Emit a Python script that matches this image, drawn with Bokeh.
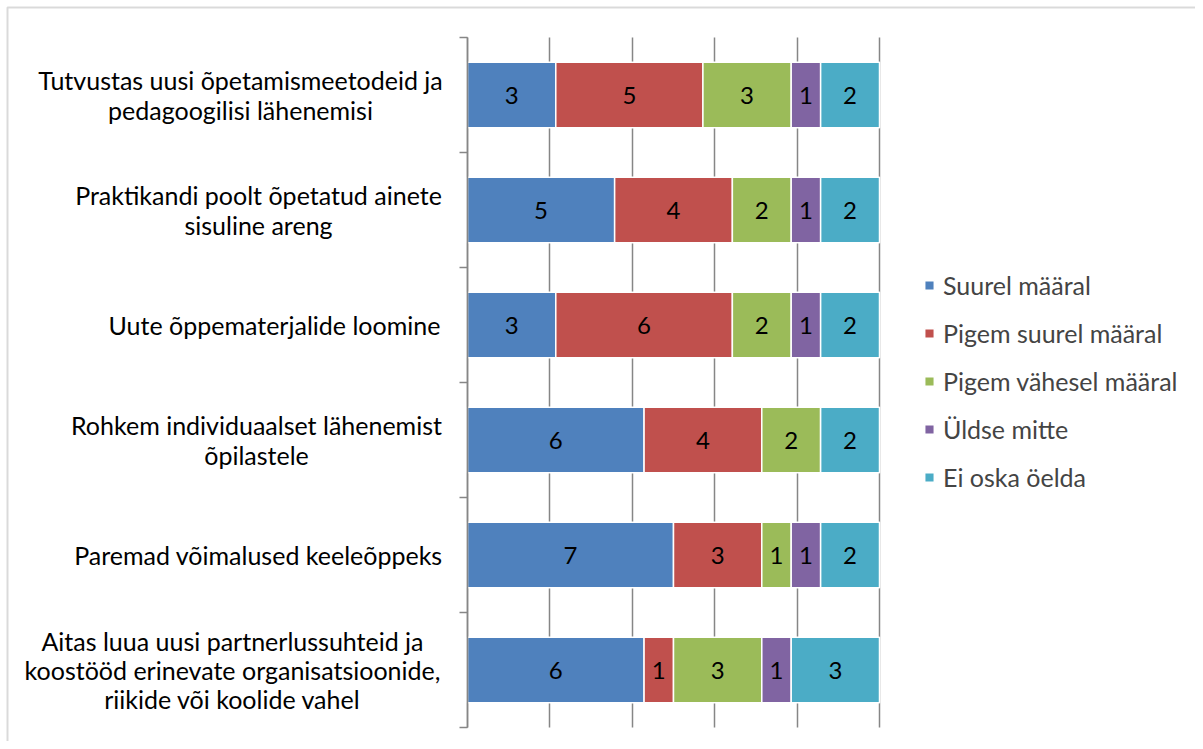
from bokeh.plotting import figure
from bokeh.models import (ColumnDataSource, Range1d, LinearAxis, FixedTicker,
                          LabelSet, BoxAnnotation, Grid)
from bokeh.core.properties import value
from bokeh.embed import file_html
from bokeh.resources import INLINE

# ---------------- data ----------------
categories = [
    "Tutvustas uusi õpetamismeetodeid ja\npedagoogilisi lähenemisi",
    "Praktikandi poolt õpetatud ainete\nsisuline areng",
    "Uute õppematerjalide loomine",
    "Rohkem individuaalset lähenemist\nõpilastele",
    "Paremad võimalused keeleõppeks",
    "Aitas luua uusi partnerlussuhteid ja\nkoostööd erinevate organisatsioonide,\nriikide või koolide vahel",
]
series_names = ["Suurel määral", "Pigem suurel määral", "Pigem vähesel määral",
                "Üldse mitte", "Ei oska öelda"]
suurel = [3, 5, 3, 6, 7, 6]
pigem_suurel = [5, 4, 6, 4, 3, 1]
pigem_vahesel = [3, 2, 2, 2, 1, 3]
uldse_mitte = [1, 1, 1, 0, 1, 1]
ei_oska = [2, 2, 2, 2, 2, 3]
grid_ticks = [0.0, 0.2, 0.4, 0.6, 0.8, 1.0]

# ---------------- style / layout ----------------
colors = ["#4F81BD", "#C0504D", "#9BBB59", "#8064A2", "#4BACC6"]
GRAY = "#868686"
FONT = "Lato"
W, H = 1195, 741
AX_X, PLOT_TOP, PLOT_BOT = 467.0, 37.0, 727.0   # canvas px of bar area
PX_PER_X = 412.0                                  # px for 100 %
label_center_px = [240, 258, 274, 256, 258, 232]  # canvas x of label centres
LINE_PX = 29.3                                    # label line spacing

series = [suurel, pigem_suurel, pigem_vahesel, uldse_mitte, ei_oska]
keys = ["s0", "s1", "s2", "s3", "s4"]
n = len(categories)
PX_PER_Y = (PLOT_BOT - PLOT_TOP) / n
ys = [n - 0.5 - i for i in range(n)]
totals = [sum(s[i] for s in series) for i in range(n)]

data = {"y": ys}
for k, s in zip(keys, series):
    data[k] = [s[i] / totals[i] for i in range(n)]
src = ColumnDataSource(data)

x_range = Range1d(-AX_X / PX_PER_X, (W - AX_X) / PX_PER_X)
y_range = Range1d((PLOT_BOT - H) / PX_PER_Y, PLOT_BOT / PX_PER_Y)

p = figure(width=W, height=H, output_backend="svg", toolbar_location=None,
           x_range=x_range, y_range=y_range,
           x_axis_location=None, y_axis_location=None,
           min_border=0)
p.outline_line_color = None
p.background_fill_color = "white"
p.border_fill_color = "white"
p.xgrid.visible = False
p.ygrid.visible = False

# vertical gridlines (20 % steps) limited to the bar area
if "cross_bounds" in Grid.properties():
    g = Grid(dimension=0, ticker=FixedTicker(ticks=grid_ticks),
             grid_line_color=GRAY, grid_line_width=1.5)
    g.cross_bounds = (0, n)
    p.add_layout(g)
else:
    p.segment(x0=grid_ticks, y0=[0] * len(grid_ticks), x1=grid_ticks,
              y1=[n] * len(grid_ticks), line_color=GRAY, line_width=1.5,
              level="underlay")

# category axis drawn at x = 0 with ticks at category boundaries
yaxis = LinearAxis(ticker=FixedTicker(ticks=list(range(n + 1))),
                   major_label_overrides={i: "" for i in range(n + 1)},
                   fixed_location=0, bounds=(0, n))
yaxis.axis_line_color = GRAY
yaxis.axis_line_width = 1.5
yaxis.major_tick_line_color = GRAY
yaxis.major_tick_line_width = 1.5
yaxis.major_tick_out = 8
yaxis.major_tick_in = 0
yaxis.minor_tick_line_color = None
p.add_layout(yaxis, "left")

p.hbar_stack(keys, y="y", height=0.57, color=colors, line_color="white",
             line_width=1.5, source=src, legend_label=series_names)

# value labels inside bars
tx, ty, tt = [], [], []
for i in range(n):
    left = 0.0
    for s in series:
        v = s[i]
        w = v / totals[i]
        if v > 0:
            tx.append(left + w / 2)
            ty.append(ys[i])
            tt.append(str(v))
        left += w
p.text(x=tx, y=ty, text=tt, text_align="center", text_baseline="middle",
       text_font=value(FONT), text_font_size="24px", text_color="black")

# category labels: each line centred on the label's centre
lx, ly, lt = [], [], []
dy = LINE_PX / PX_PER_Y
for i, cat in enumerate(categories):
    lines = cat.split("\n")
    k = len(lines)
    for j, line in enumerate(lines):
        lx.append((label_center_px[i] - AX_X) / PX_PER_X)
        ly.append(ys[i] + ((k - 1) / 2 - j) * dy)
        lt.append(line)
lab_src = ColumnDataSource(dict(x=lx, y=ly, text=lt))
labels = LabelSet(x="x", y="y", text="text", source=lab_src,
                  text_align="center", text_baseline="middle",
                  text_font=value(FONT), text_font_size="25px",
                  text_color="black")
p.add_layout(labels)

# legend
leg = p.legend[0]
leg.location = (923, 249)
leg.padding = 0
leg.margin = 0
leg.border_line_alpha = 0
leg.background_fill_alpha = 0
leg.label_text_font = FONT
leg.label_text_font_size = "25px"
leg.glyph_width = 12
leg.glyph_height = 12
leg.label_standoff = 8
leg.spacing = 18

# outer chart border (only top and left edges fall inside the window)
border = BoxAnnotation(left=7, right=W + 20, top=7, bottom=H + 20,
                       left_units="canvas", right_units="canvas",
                       top_units="canvas", bottom_units="canvas",
                       fill_alpha=0, line_color=GRAY, line_width=2)
p.add_layout(border)

open("out.html", "w").write(file_html(p, INLINE))
